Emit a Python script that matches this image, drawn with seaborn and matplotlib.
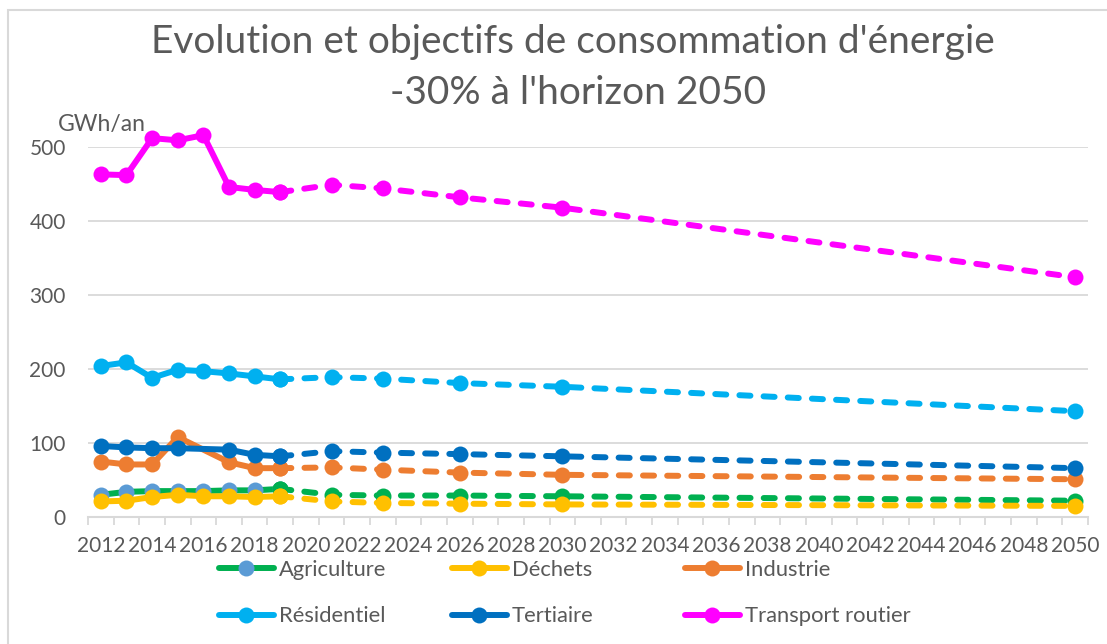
import numpy as np
import pandas as pd
import matplotlib
matplotlib.use("Agg")
import matplotlib.pyplot as plt
import seaborn as sns
from matplotlib.lines import Line2D
from matplotlib.patches import Rectangle

# Observed years (solid) and targets (dashed)
years_hist = [2012, 2013, 2014, 2015, 2016, 2017, 2018, 2019]
years_proj = [2019, 2021, 2023, 2026, 2030, 2050]

series_names = ["Agriculture", "Déchets", "Industrie", "Résidentiel", "Tertiaire", "Transport routier"]
series_colors = ["#00B050", "#FFC000", "#ED7D31", "#00B0F0", "#0070C0", "#FF00FF"]

# GWh/an (None = no point)
agriculture_hist = [30, 34, 35, 35, 35, 36, 36, 38]
agriculture_proj = [38, 30, 29, 29, 28, 22]
dechets_hist = [21, 22, 27, 30, 28, 28, 27, 28]
dechets_proj = [28, 21, 19, 18, 17, 15]
industrie_hist = [75, 71, 71, 108, None, 74, 66, 66]
industrie_proj = [66, 67, 64, 60, 57, 51]
residentiel_hist = [204, 209, 188, 199, 197, 194, 190, 186]
residentiel_proj = [186, 189, 187, 181, 176, 143]
tertiaire_hist = [96, 94, 93, 93, None, 91, 84, 82]
tertiaire_proj = [82, 89, 87, 85, 82, 66]
transport_hist = [463, 462, 512, 509, 516, 446, 442, 439]
transport_proj = [439, 449, 444, 432, 418, 324]

hist_values = [agriculture_hist, dechets_hist, industrie_hist, residentiel_hist, tertiaire_hist, transport_hist]
proj_values = [agriculture_proj, dechets_proj, industrie_proj, residentiel_proj, tertiaire_proj, transport_proj]

# Agriculture historical markers kept the default Excel blue
agri_marker_hist = "#5B9BD5"

y_ticks = [0, 100, 200, 300, 400, 500]
x_labels = list(range(2012, 2051, 2))

sns.set_theme(style="white")
plt.rcParams["font.family"] = ["Lato", "DejaVu Sans"]
text_color = "#595959"
grid_color = "#D9D9D9"

fig = plt.figure(figsize=(11.07, 6.44), dpi=100)
ax = fig.add_axes([88 / 1107, 1 - 517 / 644, 1000 / 1107, 370 / 644])

lw = 4.3
ms = 11.5
for name, color, hv, pv in zip(series_names, series_colors, hist_values, proj_values):
    dh = pd.DataFrame({"year": years_hist, "value": hv}).dropna()
    dp = pd.DataFrame({"year": years_proj, "value": pv})
    mfc = agri_marker_hist if name == "Agriculture" else color
    sns.lineplot(data=dh, x="year", y="value", ax=ax, color=color, lw=lw,
                 marker="o", markersize=ms, markerfacecolor=mfc,
                 markeredgecolor=mfc, markeredgewidth=0, clip_on=False,
                 solid_capstyle="round", solid_joinstyle="round")
    if name == "Agriculture":
        # last observed point drawn in the line colour
        ax.plot([years_hist[-1]], [hv[-1]], marker="o", ms=ms, color=color,
                mew=0, clip_on=False)
    line = sns.lineplot(data=dp, x="year", y="value", ax=ax, color=color, lw=lw,
                        marker="o", markersize=ms, markeredgewidth=0,
                        clip_on=False).lines[-1]
    line.set_linestyle((0, (1.85, 2.2)))
    line.set_dash_capstyle("round")

ax.set_xlim(2011.5, 2050.5)
ax.set_ylim(0, 500)
ax.set_xticks(x_labels)
ax.set_xticklabels([str(y) for y in x_labels])
ax.set_xticks(np.arange(2011.5, 2051, 1), minor=True)
ax.set_yticks(y_ticks)
ax.set_yticklabels([str(v) for v in y_ticks])
ax.tick_params(axis="x", which="major", length=0, pad=14, labelsize=15, labelcolor=text_color)
ax.tick_params(axis="x", which="minor", length=6, width=1.3, color=grid_color, bottom=True)
ax.tick_params(axis="y", length=0, pad=16, labelsize=15, labelcolor=text_color)
ax.set_xlabel("")
ax.set_ylabel("")
for s in ["top", "right", "left"]:
    ax.spines[s].set_visible(False)
ax.spines["bottom"].set_color(grid_color)
ax.spines["bottom"].set_linewidth(1.5)
ax.yaxis.grid(True, color=grid_color, lw=1.3)
ax.set_axisbelow(True)

fig.text(573 / 1107, 1 - 42 / 644, "Evolution et objectifs de consommation d'énergie",
         ha="center", va="center", fontsize=28, color=text_color)
fig.text(578 / 1107, 1 - 93 / 644, "-30% à l'horizon 2050",
         ha="center", va="center", fontsize=28, color=text_color)
fig.text(58 / 1107, 1 - 125 / 644, "GWh/an", ha="left", va="center",
         fontsize=16.5, color=text_color)

# Legend: three equally spaced columns like the original
handles = []
for name, color in zip(series_names, series_colors):
    mfc = agri_marker_hist if name == "Agriculture" else color
    handles.append(Line2D([], [], color=color, lw=lw, marker="o", ms=ms,
                          markerfacecolor=mfc, mew=0))
col_x = [219, 452, 685]
for i, x0 in enumerate(col_x):
    hs = [handles[i], handles[i + 3]]
    ls = [series_names[i], series_names[i + 3]]
    leg = fig.legend(hs, ls, loc="upper left", bbox_to_anchor=(x0 / 1107, 1 - 560 / 644),
                     frameon=False, fontsize=15.8, handlelength=2.5, handletextpad=0.22,
                     labelspacing=1.2, borderpad=0, borderaxespad=0)
    for t in leg.get_texts():
        t.set_color(text_color)

fig.add_artist(Rectangle((8 / 1107, -0.1), 1.2, 1.1 - 10 / 644, transform=fig.transFigure,
                         fill=False, edgecolor=grid_color, lw=1.5))

fig.savefig("out.png", dpi=100)
